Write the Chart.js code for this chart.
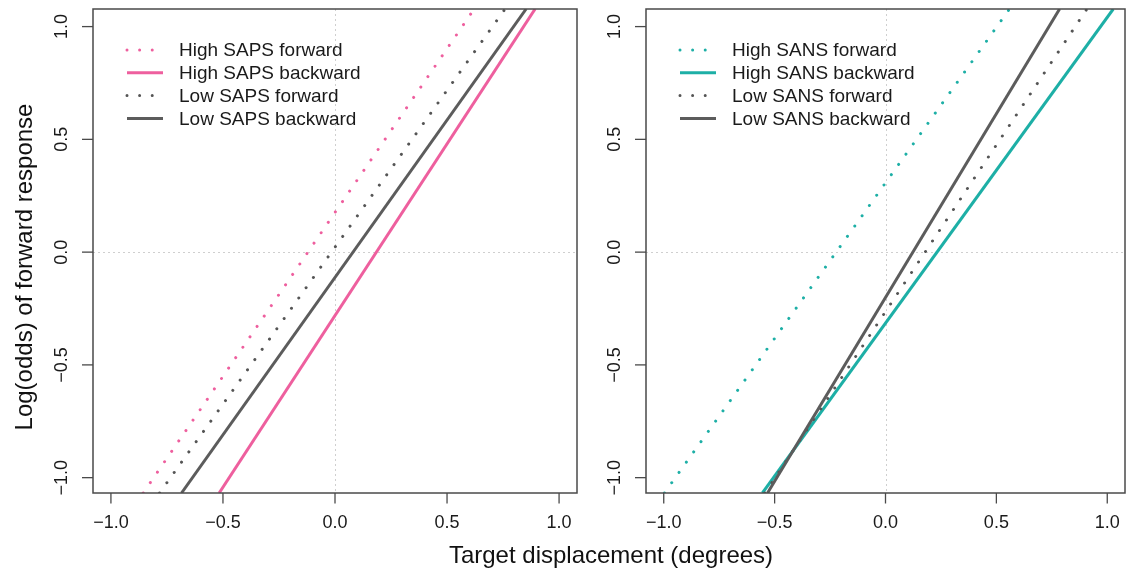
<!DOCTYPE html>
<html>
<head>
<meta charset="utf-8">
<script src="https://cdn.jsdelivr.net/npm/chart.js@4.4.1/dist/chart.umd.min.js"></script>
<style>
  html, body { margin: 0; padding: 0; background: #ffffff; }
  #wrap { position: relative; width: 1131px; height: 575px; }
  canvas { position: absolute; left: 0; top: 0; }
</style>
</head>
<body>
<div id="wrap">
  <canvas id="left" width="1131" height="575"></canvas>
  <canvas id="right" width="1131" height="575"></canvas>
</div>
<script>
// ---- data (x, y endpoints of each fitted line) ----
const xTicks = [-1.0, -0.5, 0.0, 0.5, 1.0];
const xTickLabels = ["\u22121.0", "\u22120.5", "0.0", "0.5", "1.0"];
const yTicks = [-1.0, -0.5, 0.0, 0.5, 1.0];
const yTickLabels = ["\u22121.0", "\u22120.5", "0.0", "0.5", "1.0"];

const leftLabels = ["High SAPS forward", "High SAPS backward", "Low SAPS forward", "Low SAPS backward"];
const rightLabels = ["High SANS forward", "High SANS backward", "Low SANS forward", "Low SANS backward"];

const highSapsFwdX = [-0.856, 0.621];  const highSapsFwdY = [-1.068, 1.078];
const highSapsBwdX = [-0.517, 0.893];  const highSapsBwdY = [-1.068, 1.078];
const lowSapsFwdX  = [-0.783, 0.759];  const lowSapsFwdY  = [-1.068, 1.078];
const lowSapsBwdX  = [-0.685, 0.853];  const lowSapsBwdY  = [-1.068, 1.078];

const highSansFwdX = [-0.997, 0.559];  const highSansFwdY = [-1.068, 1.078];
const highSansBwdX = [-0.555, 1.027];  const highSansBwdY = [-1.068, 1.078];
const lowSansFwdX  = [-0.544, 0.908];  const lowSansFwdY  = [-1.068, 1.078];
const lowSansBwdX  = [-0.532, 0.785];  const lowSansBwdY  = [-1.068, 1.078];

const xTitle = "Target displacement (degrees)";
const yTitle = "Log(odds) of forward response";

// ---- styles ----
const PINK = "#EE5F9E";
const TEAL = "#1DAFA6";
const GRAY_SOLID = "#5c5c5c";
const GRAY_DOT = "#555555";
const FONT = "'Liberation Sans', Arial, Helvetica, sans-serif";
const DOT_DASH = [0.01, 12.6];

function pts(xs, ys) { return xs.map((x, i) => ({ x: x, y: ys[i] })); }

function makeDatasets(labels, hiColor, series) {
  const styles = [
    { color: hiColor, dotted: true, order: 4 },
    { color: hiColor, dotted: false, order: 3 },
    { color: GRAY_DOT, dotted: true, order: 2 },
    { color: GRAY_SOLID, dotted: false, order: 1 }
  ];
  return series.map((s, i) => ({
    label: labels[i],
    data: pts(s[0], s[1]),
    showLine: true,
    pointRadius: 0,
    borderColor: styles[i].color,
    borderWidth: 3,
    borderDash: styles[i].dotted ? DOT_DASH : [],
    borderCapStyle: styles[i].dotted ? "round" : "butt",
    order: styles[i].order,
    clip: 0,
    fill: false
  }));
}

const axesPlugin = {
  id: "rAxes",
  beforeDatasetsDraw(chart) {
    const ctx = chart.ctx, a = chart.chartArea;
    const xs = chart.scales.x, ys = chart.scales.y;
    ctx.save();
    ctx.strokeStyle = "#cfcfcf";
    ctx.lineWidth = 1;
    ctx.setLineDash([2, 3]);
    const x0 = Math.round(xs.getPixelForValue(0)) + 0.5;
    const y0 = Math.round(ys.getPixelForValue(0)) + 0.5;
    ctx.beginPath(); ctx.moveTo(x0, a.top); ctx.lineTo(x0, a.bottom); ctx.stroke();
    ctx.beginPath(); ctx.moveTo(a.left, y0); ctx.lineTo(a.right, y0); ctx.stroke();
    ctx.restore();
  },
  afterDraw(chart, args, opts) {
    const ctx = chart.ctx, a = chart.chartArea;
    const xs = chart.scales.x, ys = chart.scales.y;
    ctx.save();
    ctx.strokeStyle = "#4a4a4a";
    ctx.lineWidth = 1.5;
    ctx.strokeRect(a.left, a.top, a.right - a.left, a.bottom - a.top);
    ctx.lineWidth = 1.3;
    ctx.fillStyle = "#1a1a1a";
    ctx.font = "18px " + FONT;
    ctx.textAlign = "center";
    ctx.textBaseline = "middle";
    xTicks.forEach((v, i) => {
      const px = xs.getPixelForValue(v);
      ctx.beginPath(); ctx.moveTo(px, a.bottom); ctx.lineTo(px, a.bottom + 10.5); ctx.stroke();
      ctx.fillText(xTickLabels[i], px, 523);
    });
    yTicks.forEach((v, i) => {
      const py = ys.getPixelForValue(v);
      ctx.beginPath(); ctx.moveTo(a.left, py); ctx.lineTo(a.left - 11, py); ctx.stroke();
      ctx.save();
      ctx.translate(a.left - 30.5, py);
      ctx.rotate(-Math.PI / 2);
      ctx.fillText(yTickLabels[i], 0, 0);
      ctx.restore();
    });
    ctx.font = "19px " + FONT;
    ctx.textAlign = "left";
    ctx.textBaseline = "middle";
    const lx = a.left + 34;
    chart.data.datasets.forEach((ds, i) => {
      const y = 50 + i * 22.8;
      ctx.save();
      ctx.strokeStyle = ds.borderColor;
      ctx.lineWidth = ds.borderWidth;
      ctx.lineCap = ds.borderCapStyle;
      ctx.setLineDash(ds.borderDash);
      ctx.beginPath(); ctx.moveTo(lx, y); ctx.lineTo(lx + 36, y); ctx.stroke();
      ctx.restore();
      ctx.fillStyle = "#1a1a1a";
      ctx.fillText(ds.label, lx + 52, y + 1);
    });
    if (opts.titles) {
      ctx.font = "24px " + FONT;
      ctx.textAlign = "center";
      ctx.textBaseline = "middle";
      ctx.fillStyle = "#111";
      ctx.fillText(xTitle, 611, 556);
      ctx.save();
      ctx.translate(25, 267);
      ctx.rotate(-Math.PI / 2);
      ctx.fillText(yTitle, 0, 0);
      ctx.restore();
    }
    ctx.restore();
  }
};

function makeChart(id, datasets, padding, titles) {
  return new Chart(document.getElementById(id), {
    type: "scatter",
    data: { datasets: datasets },
    options: {
      responsive: false,
      animation: false,
      devicePixelRatio: 1,
      layout: { padding: padding },
      plugins: { legend: { display: false }, tooltip: { enabled: false }, rAxes: { titles: titles } },
      scales: {
        x: { type: "linear", min: -1.08, max: 1.08, display: false },
        y: { type: "linear", min: -1.068, max: 1.078, display: false }
      }
    },
    plugins: [axesPlugin]
  });
}

makeChart("left",
  makeDatasets(leftLabels, PINK, [
    [highSapsFwdX, highSapsFwdY], [highSapsBwdX, highSapsBwdY],
    [lowSapsFwdX, lowSapsFwdY], [lowSapsBwdX, lowSapsBwdY]
  ]),
  { left: 93, right: 554, top: 9, bottom: 82 }, true);

makeChart("right",
  makeDatasets(rightLabels, TEAL, [
    [highSansFwdX, highSansFwdY], [highSansBwdX, highSansBwdY],
    [lowSansFwdX, lowSansFwdY], [lowSansBwdX, lowSansBwdY]
  ]),
  { left: 646, right: 6, top: 9, bottom: 82 }, false);
</script>
</body>
</html>
